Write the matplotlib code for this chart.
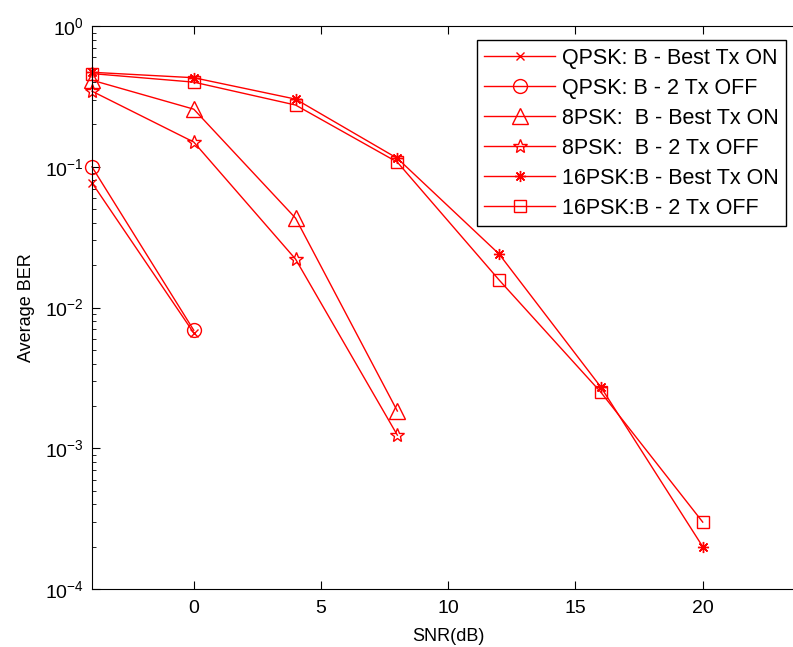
import numpy as np
import matplotlib
matplotlib.use('Agg')
import matplotlib.pyplot as plt

plt.rcParams['font.family'] = ['Liberation Sans', 'DejaVu Sans']

## data
snr_qpsk = [-4, 0]
qpsk_on = [0.077, 0.0066]
qpsk_off = [0.10, 0.0069]

snr_8psk = [-4, 0, 4, 8]
psk8_on = [0.413, 0.257, 0.0432, 0.00184]
psk8_off = [0.345, 0.150, 0.0221, 0.00124]

snr_16psk = [-4, 0, 4, 8, 12, 16, 20]
psk16_on = [0.47, 0.43, 0.303, 0.115, 0.024, 0.00272, 0.0002]
psk16_off = [0.46, 0.40, 0.275, 0.108, 0.0157, 0.0025, 0.000299]

labels = ['QPSK: B - Best Tx ON', 'QPSK: B - 2 Tx OFF',
          '8PSK:  B - Best Tx ON', '8PSK:  B - 2 Tx OFF',
          '16PSK:B - Best Tx ON', '16PSK:B - 2 Tx OFF']

fig = plt.figure(figsize=(7.93, 6.47), dpi=100)
ax = fig.add_axes([0.116, 0.0896, 0.8985, 0.870])

red = '#ff0000'
kw = dict(color=red, lw=1.0, mfc='none', mew=1.0, clip_on=False)
ax.plot(snr_qpsk, qpsk_on, marker='x', ms=6, label=labels[0], **kw)
ax.plot(snr_qpsk, qpsk_off, marker='o', ms=10, label=labels[1], **kw)
ax.plot(snr_8psk, psk8_on, marker='^', ms=11, label=labels[2], **kw)
ax.plot(snr_8psk, psk8_off, marker='*', ms=10, label=labels[3], **kw)
ax.plot(snr_16psk, psk16_on, marker=(8, 2, 0), ms=8, label=labels[4], **kw)
ax.plot(snr_16psk, psk16_off, marker='s', ms=9, label=labels[5], **kw)

ax.set_yscale('log')
ax.set_xlim([-4, 24])
ax.set_ylim([1e-4, 1])
ax.set_xticks([0, 5, 10, 15, 20])
ax.set_xlabel('SNR(dB)', fontsize=13, labelpad=8)
ax.set_ylabel('Average BER', fontsize=13, labelpad=7)
ax.tick_params(which='both', direction='in', top=True, right=True, labelsize=14)
ax.tick_params(axis='x', pad=8)
ax.tick_params(axis='y', pad=6)
ax.tick_params(which='major', length=6)
ax.tick_params(which='minor', length=3)

leg = ax.legend(loc='upper right', bbox_to_anchor=(0.974, 0.975), borderaxespad=0,
                fontsize=15.5, fancybox=False, framealpha=1, edgecolor='black',
                handlelength=3.3, labelspacing=0.42, handletextpad=0.3, borderpad=0.35)
leg.get_frame().set_linewidth(1.0)

plt.savefig('out.png', dpi=100)
